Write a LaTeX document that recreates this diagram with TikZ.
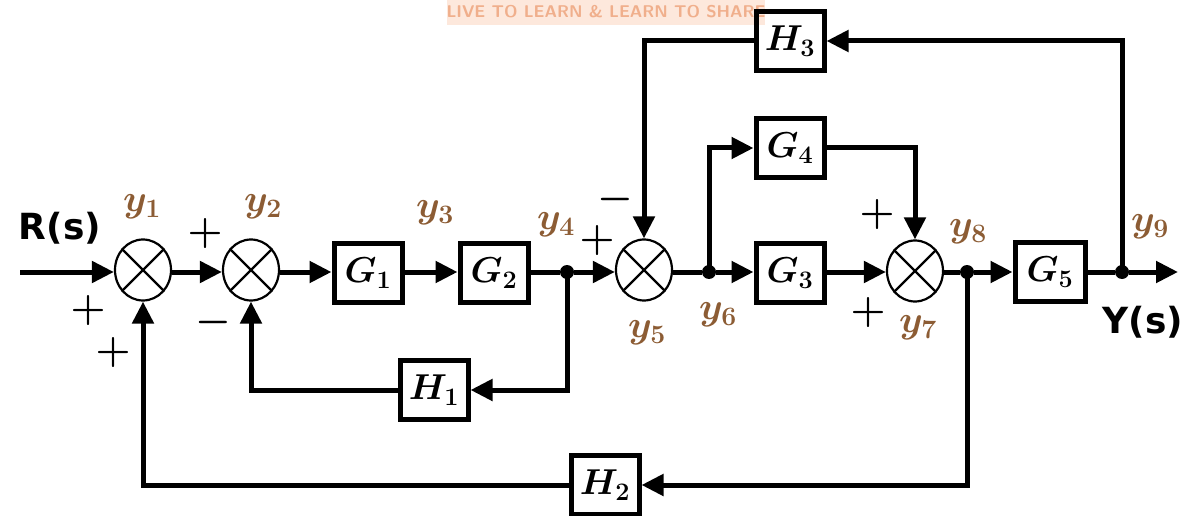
\RequirePackage{fix-cm}
\documentclass[tikz,border=0pt]{standalone}
\usepackage{amsmath}
\usepackage{bm}
\usepackage{fontspec}
\newfontfamily\lblfont{DejaVu Sans}
\usetikzlibrary{arrows.meta,shapes.geometric,calc}
\definecolor{ybrown}{RGB}{140,92,52}
\definecolor{wmband}{RGB}{253,232,220}
\definecolor{wmtext}{RGB}{240,175,140}
\begin{document}
\begin{tikzpicture}[x=1pt,y=-1pt,
  conn/.style={line width=5pt},
  arr/.style={line width=5pt,-{Triangle[length=22pt,width=21pt]}},
  blk/.style={draw,line width=5pt,minimum width=68pt,minimum height=59pt,inner sep=0pt,
    font=\fontsize{36}{36}\selectfont},
  sumj/.style={draw,ellipse,line width=2.2pt,minimum width=56pt,minimum height=61pt,inner sep=0pt},
  jdot/.style={circle,fill,minimum size=14pt,inner sep=0pt},
  ylbl/.style={text=ybrown,font=\fontsize{38}{38}\selectfont,inner sep=0pt},
  sgn/.style={font=\fontsize{40}{40}\selectfont,inner sep=0pt},
  io/.style={font=\lblfont\bfseries\fontsize{36}{36}\selectfont,inner sep=0pt}]
\useasboundingbox (0,0) rectangle (1192,516);
% watermark
\fill[wmband] (447,-2) rectangle (765,25);
\node[text=wmtext,font=\sffamily\bfseries\fontsize{17}{17}\selectfont,inner sep=0pt] (wm) at (606,12) {LIVE TO LEARN \& LEARN TO SHARE};
% nodes
\coordinate (in) at (20,272);
\node[sumj] (s1) at (143,270) {};
\node[sumj] (s2) at (251,270) {};
\node[blk] (G1) at (368,273) {$\boldsymbol{G_1}$};
\node[blk] (G2) at (494,273) {$\boldsymbol{G_2}$};
\node[jdot] (d4) at (567,272) {};
\node[sumj] (s3) at (644,270) {};
\node[jdot] (d6) at (709,272) {};
\node[blk] (G3) at (790,273) {$\boldsymbol{G_3}$};
\node[blk] (G4) at (790,148) {$\boldsymbol{G_4}$};
\node[blk] (H3) at (790,41) {$\boldsymbol{H_3}$};
\node[sumj] (s4) at (915,271) {};
\node[jdot] (d8) at (967,272) {};
\node[blk,minimum width=70pt] (G5) at (1050,272) {$\boldsymbol{G_5}$};
\node[jdot] (d9) at (1122,272) {};
\coordinate (out) at (1178,272);
\node[blk] (H1) at (434,390) {$\boldsymbol{H_1}$};
\node[blk] (H2) at (605,485) {$\boldsymbol{H_2}$};
% crosses in summing junctions
\foreach \s in {s1,s2,s3,s4}{
  \draw[line width=2.2pt] (\s.45) -- (\s.225);
  \draw[line width=2.2pt] (\s.135) -- (\s.315);
}
% forward path
\draw[arr] (in) -- (s1.west |- in);
\draw[arr] (s1.east |- in) -- (s2.west |- in);
\draw[arr] (s2.east |- in) -- (G1.west |- in);
\draw[arr] (G1.east |- in) -- (G2.west |- in);
\draw[conn] (G2.east |- in) -- (d4);
\draw[arr] (d4) -- (s3.west |- in);
\draw[conn] (s3.east |- in) -- (d6);
\draw[arr] (d6) -- (G3.west |- in);
\draw[arr] (d6.center) |- (G4.west);
\draw[arr] (G4.east) -| (s4.north);
\draw[arr] (G3.east |- in) -- (s4.west |- in);
\draw[conn] (s4.east |- in) -- (d8);
\draw[arr] (d8) -- (G5.west |- in);
\draw[conn] (G5.east |- in) -- (d9);
\draw[arr] (d9) -- (out);
% feedback paths
\draw[arr] (d9.center) |- (H3.east);
\draw[arr] (H3.west) -| (s3.north);
\draw[arr] (d4.center) |- (H1.east);
\draw[arr] (H1.west) -| (s2.south);
\draw[arr] (d8.center) |- (H2.east);
\draw[arr] (H2.west) -| (s1.south);
% signal labels
\node[ylbl] (y1) at (142,207) {$\boldsymbol{y_1}$};
\node[ylbl] (y2) at (263,207) {$\boldsymbol{y_2}$};
\node[ylbl] (y3) at (435,213) {$\boldsymbol{y_3}$};
\node[ylbl] (y4) at (556,225) {$\boldsymbol{y_4}$};
\node[ylbl] (y5) at (647,333) {$\boldsymbol{y_5}$};
\node[ylbl] (y6) at (718,315) {$\boldsymbol{y_6}$};
\node[ylbl] (y7) at (918,328) {$\boldsymbol{y_7}$};
\node[ylbl] (y8) at (968,232) {$\boldsymbol{y_8}$};
\node[ylbl] (y9) at (1150,227) {$\boldsymbol{y_9}$};
% signs
\node[sgn] (p1) at (205,233) {$\boldsymbol{+}$};
\node[sgn] (p2) at (88,310) {$\boldsymbol{+}$};
\node[sgn] (p3) at (113,352) {$\boldsymbol{+}$};
\node[sgn] (m1) at (213,322) {$\boldsymbol{-}$};
\node[sgn] (p4) at (597,240) {$\boldsymbol{+}$};
\node[sgn] (m2) at (615,199) {$\boldsymbol{-}$};
\node[sgn] (p5) at (877,215) {$\boldsymbol{+}$};
\node[sgn] (p6) at (868,312) {$\boldsymbol{+}$};
% input/output
\node[io] (R) at (60,228) {R(s)};
\node[io] (Y) at (1143,322) {Y(s)};
\end{tikzpicture}
\end{document}
